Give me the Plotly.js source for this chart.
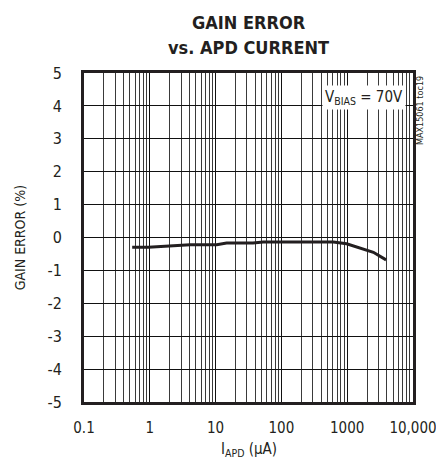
<!DOCTYPE html>
<html><head><meta charset="utf-8">
<script src="https://cdn.plot.ly/plotly-3.0.1.min.js"></script>
<style>html,body{margin:0;padding:0;background:#fff}#c{width:436px;height:458px}</style>
</head><body><div id="c"></div>
<script>
const currentUA = [0.54, 0.95, 4.1, 10.4, 14.7, 37, 53, 615, 980, 1760, 2500, 3900];
const gainErrorPct = [-0.30, -0.30, -0.22, -0.22, -0.17, -0.17, -0.14, -0.14, -0.19, -0.35, -0.45, -0.68];
const xTickVals = [0.1, 1, 10, 100, 1000, 10000];
const xTickText = ['0.1', '1', '10', '100', '1000', '10,000'];
const yTickVals = [-5, -4, -3, -2, -1, 0, 1, 2, 3, 4, 5];
const yTickText = ['-5', '-4', '-3', '-2', '-1', '0', '1', '2', '3', '4', '5'];

const FONT = "'DejaVu Sans Condensed', 'Liberation Sans Narrow', sans-serif";
const INK = '#231f20';

const data = [{
  x: currentUA, y: gainErrorPct, type: 'scatter', mode: 'lines',
  line: {color: INK, width: 3}, hoverinfo: 'skip'
}];

const layout = {
  width: 436, height: 458,
  margin: {l: 84, r: 23, t: 73, b: 56},
  paper_bgcolor: '#fff', plot_bgcolor: '#fff',
  showlegend: false,
  font: {family: FONT, color: INK, size: 14},
  xaxis: {
    type: 'log', range: [-1, 4], tickvals: xTickVals, ticktext: xTickText,
    showgrid: true, gridcolor: '#111', gridwidth: 1,
    minor: {dtick: 'D1', showgrid: true, gridcolor: '#3a3a3a', gridwidth: 1, ticks: ''},
    showline: true, linecolor: INK, linewidth: 3, mirror: true,
    ticks: '', zeroline: false, ticklabeloverflow: 'allow', ticklabelstandoff: 10,
    tickfont: {family: FONT, size: 15, color: INK}
  },
  yaxis: {
    range: [-5, 5], tickvals: yTickVals, ticktext: yTickText,
    showgrid: true, gridcolor: '#111', gridwidth: 1,
    showline: true, linecolor: INK, linewidth: 3, mirror: true,
    ticks: '', zeroline: false, ticklabelstandoff: 16,
    tickfont: {family: FONT, size: 16, color: INK}
  },
  annotations: [
    {xref: 'paper', yref: 'paper', x: 0.5, y: 1.152, xanchor: 'center', yanchor: 'middle',
     text: '<b>GAIN ERROR</b>', showarrow: false, font: {family: FONT, size: 18, color: INK}},
    {xref: 'paper', yref: 'paper', x: 0.5, y: 1.079, xanchor: 'center', yanchor: 'middle',
     text: '<b>vs. APD CURRENT</b>', showarrow: false, font: {family: FONT, size: 18, color: INK}},
    {xref: 'paper', yref: 'paper', x: 0.5, y: -0.143, xanchor: 'center', yanchor: 'middle',
     text: 'I<sub>APD</sub> (μA)', showarrow: false, font: {family: FONT, size: 15, color: INK}},
    {xref: 'paper', yref: 'paper', x: -0.195, y: 0.5, xanchor: 'center', yanchor: 'middle',
     text: 'GAIN ERROR (%)', textangle: -90, showarrow: false, font: {family: FONT, size: 14, color: INK}},
    {xref: 'paper', yref: 'paper', x: 0.85, y: 0.925, xanchor: 'center', yanchor: 'middle',
     text: 'V<sub>BIAS</sub> = 70V', showarrow: false, bgcolor: '#fff', borderpad: 2,
     font: {family: FONT, size: 15, color: INK}},
    {xref: 'paper', yref: 'paper', x: 1.022, y: 0.885, xanchor: 'center', yanchor: 'middle',
     text: 'MAX15061 toc19', textangle: -90, showarrow: false,
     font: {family: FONT, size: 9, color: INK}}
  ]
};

Plotly.newPlot('c', data, layout, {displayModeBar: false, staticPlot: true});
</script></body></html>
